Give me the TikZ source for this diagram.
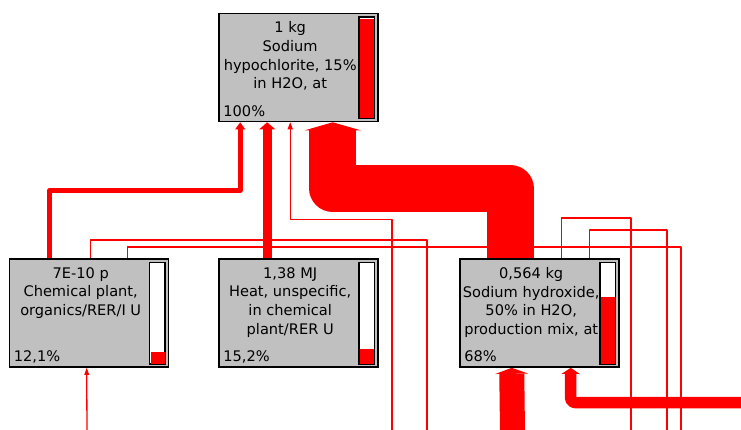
\documentclass[tikz,border=0pt]{standalone}
\usepackage{fontspec}
\setmainfont{DejaVu Sans}
\usetikzlibrary{arrows.meta,calc,backgrounds}
\definecolor{boxgray}{RGB}{192,192,192}
\definecolor{flowred}{RGB}{255,0,0}
\tikzset{
  procbox/.style={draw=black, line width=1.6pt, fill=boxgray, minimum width=159pt, minimum height=108pt, inner sep=0pt},
  proctext/.style={align=center, inner sep=0pt, font=\fontsize{14.6}{18.6}\selectfont},
  pcttext/.style={inner sep=0pt, font=\fontsize{14.6}{18.6}\selectfont},
  barbox/.style={draw=black, line width=1pt, fill=white, minimum width=15pt, minimum height=101pt, inner sep=0pt},
  barline/.style={draw=black, line width=1pt},
  flow/.style={draw=flowred, line join=round},
  thinflow/.style={flow, line width=1.3pt},
}
\newcommand\procnode[6]{%
  \node[procbox] (#1) at (#2,#3) {};
  \node[proctext, anchor=north] (#1-t) at ($(#1.north west)+(72,9)$) {#4};
  \node[pcttext, anchor=base west] (#1-p) at ($(#1.south west)+(5,-6)$) {#5};
  \node[barbox, anchor=north east] (#1-b) at ($(#1.north east)+(-4,4)$) {};
  \fill[flowred] ($(#1-b.south west)+(1.5,-0.6)$) rectangle ($(#1-b.south east)+(-0.6,-#6*99.5)$);
  \draw[barline] (#1-b.south west) rectangle (#1-b.north east);
}
\begin{document}
\begin{tikzpicture}[x=1pt,y=-1pt]
\useasboundingbox (0,0) rectangle (741,429);

\procnode{T}{298.5}{67.5}{1 kg\\Sodium\\hypochlorite, 15\%\\in H2O, at}{100\%}{1}
\procnode{L}{89}{313}{7E-10 p\\Chemical plant,\\organics/RER/I U}{12,1\%}{0.121}
\procnode{M}{298.5}{313}{1,38 MJ\\Heat, unspecific,\\in chemical\\plant/RER U}{15,2\%}{0.152}
\procnode{R}{539.5}{313}{0,564 kg\\Sodium hydroxide,\\50\% in H2O,\\production mix, at}{68\%}{0.68}

\coordinate (e1) at (392,432);
\coordinate (e2) at (427,432);
\coordinate (e3) at (681,432);
\coordinate (e4) at (631,432);
\coordinate (e5) at (667,432);
\coordinate (e6) at (87,432);
\coordinate (e7) at (512.5,432);
\coordinate (e8) at (745,402.5);

\begin{scope}[on background layer]
% thin lines leaving node tops towards the bottom
\draw[thinflow] ($(L.north west)+(82,0)$) |- ($(e2)+(0,-192)$) -- (e2);
\draw[thinflow] ($(L.north west)+(119,0)$) |- ($(e3)+(0,-185)$) -- (e3);
\draw[thinflow] ($(R.north west)+(102,0)$) |- ($(e4)+(0,-214)$) -- (e4);
\draw[thinflow] ($(R.north west)+(130,0)$) |- ($(e5)+(0,-202)$) -- (e5);
% flows into the top node
\draw[flow, line width=5pt, -{Triangle[width=10pt,length=7pt,line width=0pt]}]
  ($(L.north west)+(41,0)$) |- ($(T.south west)+(22,68)$) -- ($(T.south west)+(22,0)$);
\draw[flow, line width=9pt, -{Triangle[width=16pt,length=7pt,line width=0pt]}]
  ($(M.north west)+(49,0)$) -- ($(T.south west)+(49,0)$);
\draw[thinflow, -{Triangle[width=5.5pt,length=7pt,line width=0pt]}]
  (e1) |- ($(T.south west)+(72,97)$) -- ($(T.south west)+(72,0)$);
\draw[flow, line width=47pt, -{Triangle[width=56pt,length=8pt,line width=0pt]}]
  ($(R.north west)+(51,0)$) |- ($(T.south west)+(114.5,66)$) -- ($(T.south west)+(114.5,0)$);
% flows into the lower nodes
\draw[thinflow, -{Triangle[width=5pt,length=7pt,line width=0pt]}]
  (e6) -- ($(L.south west)+(78,0)$);
\draw[flow, line width=25pt, -{Triangle[width=33pt,length=6pt,line width=0pt]}]
  (e7) -- ($(R.south west)+(52.5,0)$);
\draw[flow, line width=11.5pt, rounded corners=4pt, -{Triangle[width=18pt,length=6pt,line width=0pt]}]
  (e8) -| ($(R.south west)+(111.5,0)$);
\end{scope}
\end{tikzpicture}
\end{document}
